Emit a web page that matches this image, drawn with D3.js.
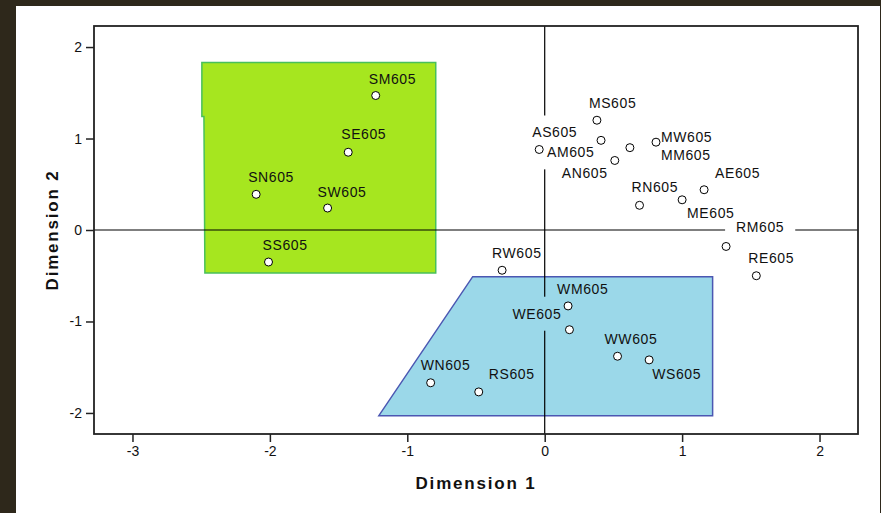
<!DOCTYPE html>
<html>
<head>
<meta charset="utf-8">
<script src="https://cdn.jsdelivr.net/npm/d3@7"></script>
<style>
  html, body { margin: 0; padding: 0; background: #2e281b; }
  svg { display: block; }
  .tick text { font-family: "Liberation Sans", Arial, sans-serif; font-size: 14px; fill: #111; }
  .axis path { display: none; }
  .axis line { stroke: #222; stroke-width: 1.5; }
  .ptlabel { font-family: "Liberation Sans", Arial, sans-serif; font-size: 14px; letter-spacing: 0.6px; fill: #111; }
  .title { font-family: "Liberation Sans", Arial, sans-serif; font-size: 17px; font-weight: bold; letter-spacing: 1.8px; fill: #111; }
</style>
</head>
<body>
<svg id="chart" width="881" height="513"></svg>
<script>
// stimulus names and their coordinates on the two dimensions
const names = ["SM605","SE605","SN605","SW605","SS605",
  "MS605","AS605","AM605","MM605","AN605","MW605",
  "RN605","ME605","AE605","RM605","RE605","RW605",
  "WM605","WE605","WW605","WS605","WN605","RS605"]
const dim1 = [-1.23,-1.43,-2.10,-1.58,-2.01,
  0.38,-0.04,0.41,0.62,0.51,0.81,
  0.69,1.00,1.16,1.32,1.54,-0.31,
  0.17,0.18,0.53,0.76,-0.83,-0.48]
const dim2 = [1.47,0.85,0.39,0.24,-0.35,
  1.20,0.88,0.98,0.90,0.76,0.96,
  0.27,0.33,0.44,-0.18,-0.50,-0.44,
  -0.83,-1.09,-1.38,-1.42,-1.67,-1.77]

// highlighted regions, as [dim1, dim2] corners
const greenRegion = [[-2.495,1.83],[-0.793,1.83],[-0.793,-0.47],[-2.473,-0.47],[-2.48,1.24],[-2.495,1.24]]
const blueRegion = [[-0.524,-0.51],[1.222,-0.51],[1.222,-2.03],[-1.207,-2.03]]

const xTicks = [-3,-2,-1,0,1,2]
const yTicks = [-2,-1,0,1,2]

// label placement relative to the point (px): [dx to text start, dy to text middle]
const labelPos = {
  SM605:[-7,-17], SE605:[-7,-18], SN605:[-8,-17], SW605:[-10,-16], SS605:[-6,-17],
  MS605:[-8,-17], AS605:[-7,-17], AM605:[-54,12], MM605:[31,7], AN605:[-53,13],
  MW605:[5,-5], RN605:[-8,-18], ME605:[5,13], AE605:[11,-17], RM605:[10,-19],
  RE605:[-8,-18], RW605:[-10,-17], WM605:[-11,-17], WE605:[-57,-16], WW605:[-13,-17],
  WS605:[3,14], WN605:[-10,-18], RS605:[10,-18]
}
// labels whose box cuts the reference lines
const lineBreaks = ["AS605","AM605","WE605","RM605"]

const svg = d3.select("#chart")
svg.append("rect").attr("x",16).attr("y",6).attr("width",864).attr("height",507).attr("fill","#fff")

const plot = {left:94, right:858, top:26, bottom:434}
const x = d3.scaleLinear().domain([-3.28,2.28]).range([plot.left,plot.right])
const y = d3.scaleLinear().domain([-2.23,2.23]).range([plot.bottom,plot.top])

const line = d3.line().x(d=>x(d[0])).y(d=>y(d[1])).curve(d3.curveLinearClosed)

svg.append("path").datum(greenRegion).attr("d",line)
  .attr("fill","#a6e61f").attr("stroke","#48c05a").attr("stroke-width",1.5)
svg.append("path").datum(blueRegion).attr("d",line)
  .attr("fill","#9bd8e9").attr("stroke","#4b57b2").attr("stroke-width",1.5)

// reference lines at 0, masked under some labels
const mask = svg.append("defs").append("mask").attr("id","refmask")
  .attr("maskUnits","userSpaceOnUse").attr("x",0).attr("y",0).attr("width",881).attr("height",513)
mask.append("rect").attr("width",881).attr("height",513).attr("fill","#fff")

const ref = svg.append("g").attr("mask","url(#refmask)")
ref.append("line").attr("x1",x(0)).attr("x2",x(0)).attr("y1",plot.top).attr("y2",plot.bottom)
  .attr("stroke","#000").attr("stroke-width",1.2)
ref.append("line").attr("x1",plot.left).attr("x2",plot.right).attr("y1",y(0)).attr("y2",y(0))
  .attr("stroke","#000").attr("stroke-width",1.2)

// frame
svg.append("rect").attr("x",plot.left).attr("y",plot.top)
  .attr("width",plot.right-plot.left).attr("height",plot.bottom-plot.top)
  .attr("fill","none").attr("stroke","#222").attr("stroke-width",1.8)

const xAxis = d3.axisBottom(x).tickValues(xTicks).tickSize(8).tickPadding(4).tickFormat(d3.format("d"))
const yAxis = d3.axisLeft(y).tickValues(yTicks).tickSize(8).tickPadding(4).tickFormat(d3.format("d"))
svg.append("g").attr("class","axis").attr("transform","translate(0,"+plot.bottom+")").call(xAxis)
svg.append("g").attr("class","axis").attr("transform","translate("+plot.left+",0)").call(yAxis)
svg.selectAll(".tick text").text(d => d<0 ? "-"+Math.abs(d) : d)

const pts = names.map((n,i)=>({name:n, d1:dim1[i], d2:dim2[i]}))

svg.append("g").selectAll("circle").data(pts).join("circle")
  .attr("cx",d=>x(d.d1)).attr("cy",d=>y(d.d2)).attr("r",4)
  .attr("fill","#fff").attr("stroke","#000").attr("stroke-width",1)

const labels = svg.append("g").selectAll("text").data(pts).join("text")
  .attr("class","ptlabel")
  .attr("x",d=>x(d.d1)+labelPos[d.name][0])
  .attr("y",d=>y(d.d2)+labelPos[d.name][1]+5)
  .text(d=>d.name)

labels.filter(d=>lineBreaks.includes(d.name)).each(function() {
  const b = this.getBBox()
  mask.append("rect").attr("x",b.x-11).attr("y",b.y-9)
    .attr("width",b.width+22).attr("height",b.height+18).attr("fill","#000")
})

svg.append("text").attr("class","title").attr("x",(plot.left+plot.right)/2).attr("y",489)
  .attr("text-anchor","middle").text("Dimension 1")
svg.append("text").attr("class","title")
  .attr("transform","translate(58,"+((plot.top+plot.bottom)/2)+") rotate(-90)")
  .attr("text-anchor","middle").text("Dimension 2")
</script>
</body>
</html>
